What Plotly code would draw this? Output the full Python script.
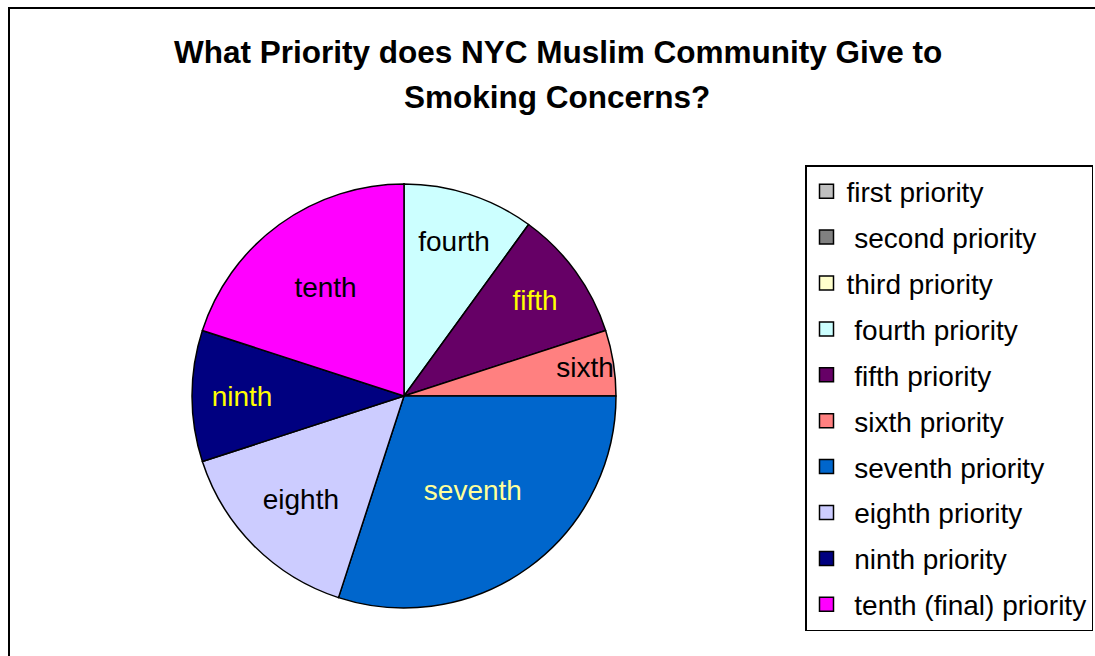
import plotly.graph_objects as go

# Survey responses: how many respondents ranked smoking at each priority level
priorities = ["first priority", "\u00a0second priority", "third priority",
              "\u00a0fourth priority", "\u00a0fifth priority", "\u00a0sixth priority",
              "\u00a0seventh priority", "\u00a0eighth priority", "\u00a0ninth priority",
              "\u00a0tenth (final) priority"]
slice_labels = ["", "", "", "fourth", "fifth", "sixth", "seventh", "eighth", "ninth", "tenth"]
counts = [0, 0, 0, 2, 2, 1, 6, 3, 2, 4]
colors = ["#C0C0C0", "#808080", "#FFFFCC", "#CCFFFF", "#660066",
          "#FF8080", "#0066CC", "#CCCCFF", "#000080", "#FF00FF"]
label_colors = ["black", "black", "black", "black", "#FFFF00",
                "black", "#FFFF99", "black", "#FFFF00", "black"]

W, H = 1095, 656
FONT = "Arial, Liberation Sans, sans-serif"


def px_x(x):
    return x / W


def px_y(y):
    return 1 - y / H


fig = go.Figure()

fig.add_trace(go.Pie(
    labels=priorities,
    values=counts,
    text=slice_labels,
    textinfo="text",
    textposition="inside",
    insidetextorientation="horizontal",
    insidetextfont=dict(family=FONT, size=28, color=label_colors),
    sort=False,
    direction="clockwise",
    rotation=0,
    marker=dict(colors=colors, line=dict(color="black", width=1.5)),
    showlegend=False,
    hoverinfo="label+value",
    domain=dict(x=[px_x(192), px_x(616)], y=[px_y(608), px_y(184)]),
))

# Legend entries, one per priority level
for name, col in zip(priorities, colors):
    fig.add_trace(go.Scatter(
        x=[None], y=[None], mode="markers", name=name, legendgroup=name,
        marker=dict(symbol="square", size=14, color=col,
                    line=dict(color="black", width=1.5)),
    ))

fig.update_layout(
    width=W, height=H,
    margin=dict(l=0, r=0, t=0, b=0),
    paper_bgcolor="white",
    plot_bgcolor="white",
    xaxis=dict(visible=False),
    yaxis=dict(visible=False),
    uniformtext=dict(minsize=28, mode="show"),
    legend=dict(
        x=px_x(805), y=px_y(165), xanchor="left", yanchor="top",
        font=dict(family=FONT, size=28, color="black"),
        bordercolor="black", borderwidth=1.5, bgcolor="white",
        tracegroupgap=6.5,
    ),
    shapes=[dict(type="rect", xref="paper", yref="paper",
                 x0=px_x(9), x1=1.02, y0=-0.02, y1=px_y(8),
                 line=dict(color="black", width=2))],
    annotations=[
        dict(text="<b>What Priority does NYC Muslim Community Give to</b>",
             x=px_x(558), y=px_y(52), xref="paper", yref="paper",
             xanchor="center", yanchor="middle", showarrow=False,
             font=dict(family=FONT, size=31.5, color="black")),
        dict(text="<b>Smoking Concerns?</b>",
             x=px_x(557), y=px_y(97), xref="paper", yref="paper",
             xanchor="center", yanchor="middle", showarrow=False,
             font=dict(family=FONT, size=31.5, color="black")),
    ],
)

fig.write_html("out.html")
